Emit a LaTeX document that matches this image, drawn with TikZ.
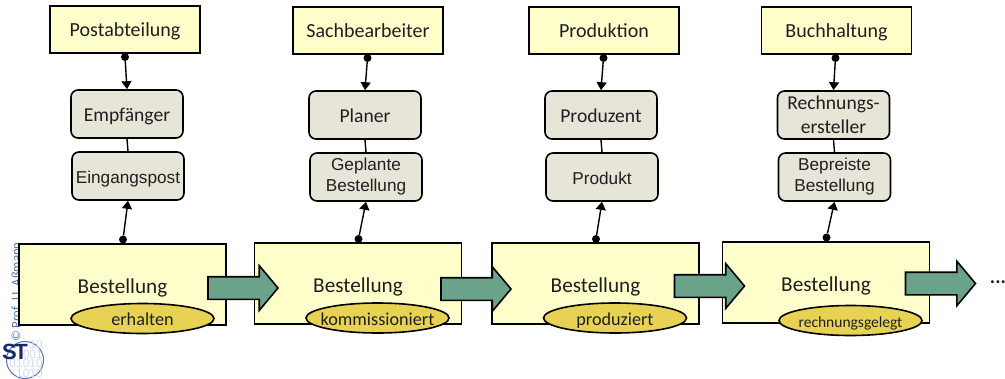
\documentclass[tikz,border=0pt]{standalone}
\usepackage{fontspec}
\setmainfont{Carlito}
\newfontfamily\arialfont{Liberation Sans}
\usetikzlibrary{arrows.meta,shapes.geometric,shapes.arrows}
\definecolor{boxyellow}{HTML}{FFFFCC}
\definecolor{boxgrey}{HTML}{E6E5D8}
\definecolor{flowgreen}{HTML}{6BA28A}
\definecolor{stategold}{HTML}{E8D253}
\definecolor{logoblue}{HTML}{5474B4}
\definecolor{logodigit}{HTML}{D8D8F2}
\definecolor{logodark}{HTML}{14286E}
\tikzset{
    every node/.style={text=black!88, align=center},
    oneline/.style={text height=18.5pt, text depth=4pt},
    dept/.style={draw, oneline, line width=1.6pt, fill=boxyellow, minimum width=150pt, minimum height=47pt, inner sep=0pt, font=\fontsize{20}{24}\selectfont},
    role/.style={draw, line width=1.6pt, fill=boxgrey, rounded corners=7pt, minimum width=112pt, minimum height=48pt, inner sep=0pt, font=\fontsize{19.6}{24}\selectfont},
    item/.style={role, font=\arialfont\fontsize{17.2}{21}\selectfont},
    order/.style={draw, oneline, text height=21pt, line width=1.6pt, fill=boxyellow, minimum width=207pt, minimum height=81pt, inner sep=0pt, font=\fontsize{21.2}{24}\selectfont},
    state/.style={draw, ellipse, text height=17pt, text depth=3pt, line width=1.6pt, fill=stategold, minimum width=143pt, minimum height=30pt, inner sep=0pt, font=\fontsize{18.2}{20}\selectfont},
    flow/.style={draw, single arrow, line width=1.6pt, fill=flowgreen, minimum width=43pt, minimum height=70pt, inner xsep=0pt, inner ysep=10.5pt, outer sep=0pt, single arrow head extend=11pt, single arrow tip angle=100, anchor=west},
    dot/.style={circle, fill=black, inner sep=0pt, minimum size=8pt},
    link/.style={line width=1.4pt}
}
\begin{document}
\begin{tikzpicture}[x=1pt, y=-1pt, >={Triangle[length=8pt,width=10pt]}]
    \useasboundingbox (0,0) rectangle (1005,378);

    % Copyright and logo
    \node[rotate=90, anchor=west, inner sep=0pt, text=logoblue, font=\fontsize{12.8}{14}\selectfont] (copyright) at (16,342) {© Prof. U. Aßmann};
    \node[circle, draw=logoblue, line width=1pt, minimum size=37pt, inner sep=0pt] (logo) at (25,360) {};
    \node[anchor=east, align=right, inner sep=0pt, text=logodigit, font=\arialfont\fontsize{12}{7.7}\selectfont] (digits) at (43,359) {10\hspace{5pt}\\001\\01010\\1010\hspace{5pt}};
    \node[inner sep=0pt, text=logodark, font=\arialfont\bfseries\fontsize{22}{22}\selectfont] (logotext) at (15,352) {S\kern-2.5pt T};

    % Departments
    \node[dept] (post) at (125,29.5) {Postabteilung};
    \node[dept] (sach) at (368,30.5) {Sachbearbeiter};
    \node[dept] (prod) at (604,30.5) {Produktion};
    \node[dept] (buch) at (836.5,30.5) {Buchhaltung};

    % Roles
    \node[role, oneline] (empf) at (127,114) {Empfänger};
    \node[role, oneline] (plan) at (365,115) {Planer};
    \node[role, oneline] (prozt) at (601,115) {Produzent};
    \node[role] (rech) at (833.5,115) {Rechnungs-\\ersteller};

    % Items
    \node[item, oneline] (eing) at (128,176) {Eingangspost};
    \node[item] (gepl) at (366,177) {Geplante\\Bestellung};
    \node[item, oneline] (prokt) at (602,177) {Produkt};
    \node[item] (bepr) at (834.5,177) {Bepreiste\\Bestellung};

    % Orders
    \node[order] (orderA) at (122.5,284.5) {Bestellung};
    \node[order] (orderB) at (358,283.5) {Bestellung};
    \node[order] (orderC) at (595.5,283.5) {Bestellung};
    \node[order] (orderD) at (826,282.5) {Bestellung};

    % States
    \node[state] (stateA) at (142.5,318.5) {erhalten};
    \node[state] (stateB) at (377.5,318) {\makebox[0pt]{kommissioniert}};
    \node[state] (stateC) at (615,318) {produziert};
    \node[state, font=\fontsize{15.5}{18}\selectfont] (stateD) at (850.5,320.5) {\makebox[0pt]{rechnungsgelegt}};

    % Dots
    \node[dot] (dotpost) at (125,57) {};
    \node[dot] (dotsach) at (367.5,58) {};
    \node[dot] (dotprod) at (603.5,58) {};
    \node[dot] (dotbuch) at (835.5,58) {};
    \node[dot] (dotA) at (123,239.5) {};
    \node[dot] (dotB) at (358.5,239) {};
    \node[dot] (dotC) at (596,239) {};
    \node[dot] (dotD) at (826.5,237.5) {};

    % Connectors
    \foreach \a/\b in {dotpost/empf, dotsach/plan, dotprod/prozt, dotbuch/rech}
        \draw[->, link] (\a) -- (\b.north);
    \foreach \a/\b in {empf/eing, plan/gepl, prozt/prokt, rech/bepr}
        \draw[link] (\a.south) -- (\b.north);
    \foreach \a/\b in {dotA/eing, dotB/gepl, dotC/prokt, dotD/bepr}
        \draw[->, link] (\a) -- (\b.south);

    % Flow arrows
    \node[flow] (flowA) at (208,288) {};
    \node[flow] (flowB) at (441,289) {};
    \node[flow] (flowC) at (674.5,286) {};
    \node[flow] (flowD) at (905.5,283.5) {};

    \node[font=\bfseries\fontsize{20}{24}\selectfont] (dots) at (998,282) {...};
\end{tikzpicture}
\end{document}
